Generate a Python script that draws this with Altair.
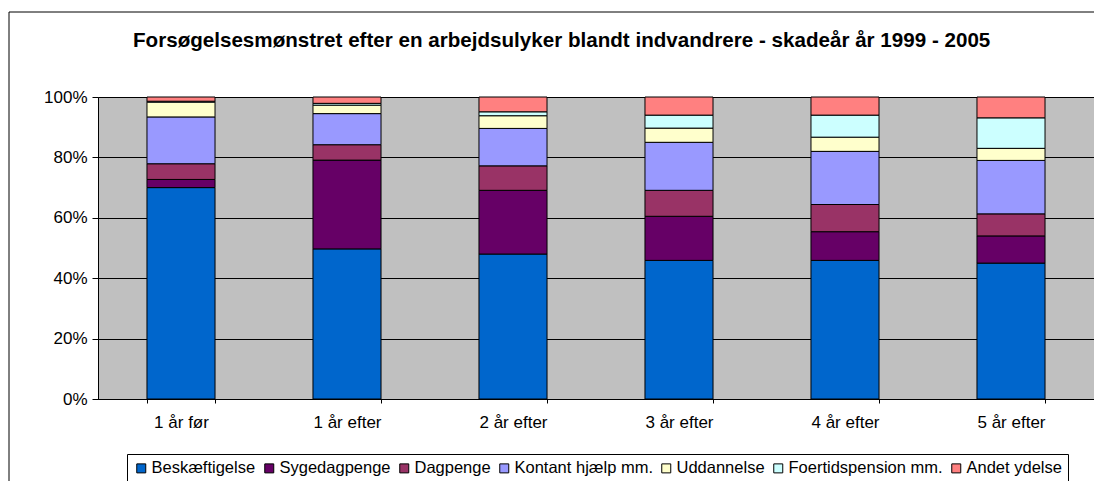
import altair as alt
import pandas as pd

title_text = "Forsøgelsesmønstret efter en arbejdsulyker blandt indvandrere - skadeår år 1999 - 2005"
categories = ["1 år før", "1 år efter", "2 år efter", "3 år efter", "4 år efter", "5 år efter"]
series = ["Beskæftigelse", "Sygedagpenge", "Dagpenge", "Kontant hjælp mm.",
          "Uddannelse", "Foertidspension mm.", "Andet ydelse"]
colors = ["#0066CC", "#660066", "#993366", "#9999FF", "#FFFFCC", "#CCFFFF", "#FF8080"]

beskaeftigelse = [70.0, 49.7, 48.0, 45.9, 45.9, 45.0]
sygedagpenge = [2.7, 29.4, 21.1, 14.6, 9.5, 9.0]
dagpenge = [5.2, 5.1, 8.1, 8.6, 9.0, 7.3]
kontant = [15.5, 10.3, 12.4, 15.9, 17.6, 17.7]
uddannelse = [4.9, 2.8, 4.2, 4.7, 4.7, 4.0]
foertid = [0.3, 0.6, 1.3, 4.3, 7.3, 10.1]
andet = [1.4, 2.1, 4.9, 6.0, 6.0, 6.9]

values = [beskaeftigelse, sygedagpenge, dagpenge, kontant, uddannelse, foertid, andet]

rows = []
for si, (s, vals) in enumerate(zip(series, values)):
    for c, v in zip(categories, vals):
        rows.append({"kategori": c, "ydelse": s, "andel": v, "idx": si})
df = pd.DataFrame(rows)

FONT = "Liberation Sans"
W, H = 996, 302

bars = alt.Chart(df).mark_bar(stroke="black", strokeWidth=1).encode(
    x=alt.X("kategori:N", sort=categories, title=None,
            scale=alt.Scale(paddingInner=0.59, paddingOuter=0.295),
            axis=alt.Axis(labelAngle=0, tickBand="extent", tickSize=4,
                          labelPadding=11, labelFontSize=17, labelFont=FONT,
                          labelColor="black", domainColor="black", tickColor="black")),
    y=alt.Y("andel:Q", stack="normalize", title=None,
            scale=alt.Scale(domain=[0, 1]),
            axis=alt.Axis(format=".0%", values=[0, 0.2, 0.4, 0.6, 0.8, 1.0],
                          tickSize=6, labelPadding=5, labelFontSize=17, labelFont=FONT,
                          labelColor="black", domainColor="black", tickColor="black",
                          grid=True, gridColor="black", gridWidth=1)),
    color=alt.Color("ydelse:N", sort=series,
                    scale=alt.Scale(domain=series, range=colors),
                    legend=alt.Legend(orient="none", legendX=29, legendY=357,
                                      direction="horizontal", title=None,
                                      symbolType="square", symbolSize=81,
                                      symbolStrokeColor="black", symbolStrokeWidth=1,
                                      symbolOpacity=1,
                                      labelFontSize=16.5, labelFont=FONT, labelColor="black",
                                      strokeColor="black", fillColor="white", padding=6,
                                      columnPadding=5, labelOffset=2)),
    order=alt.Order("idx:Q", sort="ascending"),
)

frame = alt.Chart(pd.DataFrame({"f": [0]})).mark_rect(
    fill="white", fillOpacity=0, stroke="black", strokeWidth=1
).encode(
    x=alt.value(-89), x2=alt.value(W + 200),
    y=alt.value(-85), y2=alt.value(H + 300),
)

title = alt.Chart(pd.DataFrame({"t": [title_text]})).mark_text(
    align="left", baseline="alphabetic", font=FONT, fontSize=20.6, fontWeight="bold",
    color="black"
).encode(
    text="t:N", x=alt.value(35), y=alt.value(-50),
)

chart = alt.layer(frame, bars, title).properties(
    width=W, height=H,
    autosize=alt.AutoSizeParams(type="none"),
    padding={"left": 90, "top": 89, "right": 0, "bottom": 82},
).configure_view(fill="#C0C0C0", stroke="#808080")

chart.save("out.html", embed_options={"renderer": "svg", "actions": False})
